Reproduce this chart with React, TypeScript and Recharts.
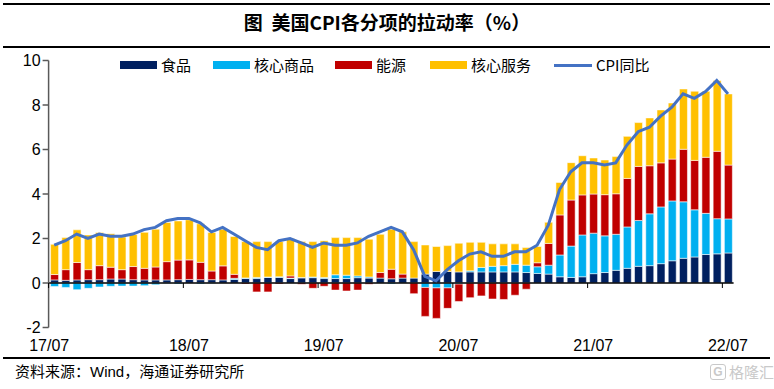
import React from 'react';
import { ComposedChart, Bar, Line, XAxis, YAxis, ReferenceLine } from 'recharts';

const months = [
  '17/07','17/08','17/09','17/10','17/11','17/12',
  '18/01','18/02','18/03','18/04','18/05','18/06','18/07','18/08','18/09','18/10','18/11','18/12',
  '19/01','19/02','19/03','19/04','19/05','19/06','19/07','19/08','19/09','19/10','19/11','19/12',
  '20/01','20/02','20/03','20/04','20/05','20/06','20/07','20/08','20/09','20/10','20/11','20/12',
  '21/01','21/02','21/03','21/04','21/05','21/06','21/07','21/08','21/09','21/10','21/11','21/12',
  '22/01','22/02','22/03','22/04','22/05','22/06','22/07',
];

const food = [
  0.14,0.12,0.14,0.15,0.15,0.18,
  0.18,0.15,0.14,0.14,0.14,0.15,0.16,0.15,0.15,0.14,0.16,0.20,
  0.20,0.25,0.25,0.20,0.23,0.24,0.20,0.20,0.20,0.24,0.22,0.22,
  0.19,0.22,0.22,0.40,0.52,0.52,0.50,0.50,0.50,0.50,0.50,0.50,
  0.47,0.43,0.40,0.28,0.25,0.28,0.42,0.47,0.57,0.66,0.75,0.78,
  0.87,1.00,1.11,1.17,1.28,1.31,1.35,
];

const coreGoods = [
  -0.16,-0.20,-0.30,-0.24,-0.18,-0.15,
  -0.14,-0.14,-0.12,-0.08,-0.02,-0.05,0.00,-0.05,-0.02,0.00,0.05,0.03,
  0.05,0.02,0.03,0.02,0.02,0.03,0.05,0.17,0.15,0.08,0.05,0.00,
  -0.05,0.00,0.00,-0.20,-0.22,-0.22,-0.05,0.05,0.20,0.25,0.28,0.34,
  0.33,0.30,0.40,0.98,1.41,1.88,1.82,1.65,1.62,1.86,2.06,2.33,
  2.55,2.69,2.54,2.12,1.85,1.58,1.53,
];

const energy = [
  0.24,0.48,0.78,0.45,0.63,0.53,
  0.42,0.59,0.52,0.58,0.82,0.88,0.88,0.78,0.39,0.63,0.18,-0.05,
  -0.40,-0.40,-0.05,0.10,-0.06,-0.24,-0.15,-0.32,-0.36,-0.32,-0.06,0.25,
  0.43,0.18,-0.48,-1.30,-1.37,-0.92,-0.78,-0.66,-0.58,-0.72,-0.74,-0.55,
  -0.28,0.18,0.98,1.80,2.07,1.80,1.76,1.85,1.82,2.18,2.43,2.16,
  1.98,1.88,2.36,2.22,2.52,3.03,2.42,
];

const coreServices = [
  1.36,1.44,1.47,1.56,1.49,1.50,
  1.47,1.44,1.62,1.70,1.76,1.76,1.80,1.73,1.73,1.65,1.70,1.63,
  1.61,1.59,1.58,1.68,1.61,1.59,1.65,1.67,1.69,1.72,1.70,1.72,
  1.80,1.90,1.64,1.31,1.12,1.16,1.29,1.28,1.13,1.01,0.98,0.92,
  0.79,0.73,0.95,1.46,1.68,1.76,1.62,1.56,1.67,1.89,1.97,2.15,
  2.38,2.52,2.71,3.11,2.97,3.18,3.20,
];

const cpi = [
  1.7,1.9,2.2,2.0,2.2,2.1,
  2.1,2.2,2.4,2.5,2.8,2.9,2.9,2.7,2.3,2.5,2.2,1.9,
  1.6,1.5,1.9,2.0,1.8,1.6,1.8,1.7,1.7,1.8,2.1,2.3,
  2.5,2.3,1.5,0.3,0.1,0.6,1.0,1.3,1.4,1.2,1.2,1.4,
  1.4,1.7,2.6,4.2,5.0,5.4,5.4,5.3,5.4,6.2,6.8,7.0,
  7.5,7.9,8.5,8.3,8.6,9.1,8.5,
];

const xTicks = ['17/07','18/07','19/07','20/07','21/07','22/07'];
const yTicks = [-2, 0, 2, 4, 6, 8, 10];

const seriesNames = { food: '食品', coreGoods: '核心商品', energy: '能源', coreServices: '核心服务', cpi: 'CPI同比' };

const data = months.map((m, i) => ({
  month: m,
  food: food[i],
  coreGoods: coreGoods[i],
  energy: energy[i],
  coreServices: coreServices[i],
  cpi: cpi[i],
}));

const W = 774;
const H = 389;
const MARGIN = { top: 60.5, right: 40.4, bottom: 31.5, left: 8.6 };
const Y_AXIS_W = 40;
const X_AXIS_H = 30;
const PLOT_L = MARGIN.left + Y_AXIS_W;
const PLOT_R = W - MARGIN.right;
const PLOT_T = MARGIN.top;
const PLOT_B = H - MARGIN.bottom - X_AXIS_H;
const BAND = (PLOT_R - PLOT_L) / months.length;
const ZERO_Y = PLOT_T + (PLOT_B - PLOT_T) * (10 / 12);

const NUM_FONT = '"Liberation Sans Narrow", "Arial Narrow", "Liberation Sans", Arial, sans-serif';
const CJK_FONT = '"Noto Sans CJK SC", "Noto Sans", sans-serif';

const COLORS = {
  food: '#002060',
  coreGoods: '#00B0F0',
  energy: '#C00000',
  coreServices: '#FFC000',
  cpi: '#4472C4',
};

const XTick = (props: any) => {
  const { x, y, payload } = props;
  const tx = x - BAND / 2;
  const shift = payload.value === xTicks[0] ? -5 : 0;
  return (
    <g>
      <line x1={tx} x2={tx} y1={ZERO_Y} y2={ZERO_Y + 5} stroke="#000" strokeWidth={1} />
      <text x={x + shift} y={y + 15.5} textAnchor="middle" fontSize={16} fontFamily={NUM_FONT} fill="#000">
        {payload.value}
      </text>
    </g>
  );
};

const barStroke = 'rgba(255,255,255,0.55)';

const LegendItem = ({ left, kind, color, label }: { left: number; kind: 'rect' | 'line'; color: string; label: string }) => (
  <div style={{ position: 'absolute', left, top: 0, height: 16, display: 'flex', alignItems: 'center', whiteSpace: 'nowrap' }}>
    {kind === 'rect' ? (
      <div style={{ width: 37, height: 8, background: color }} />
    ) : (
      <div style={{ width: 38, height: 3, background: color }} />
    )}
    <span style={{ marginLeft: 4, fontSize: 15, fontFamily: CJK_FONT, color: '#000', lineHeight: '16px' }}>{label}</span>
  </div>
);

export default function App() {
  return (
    <div style={{ position: 'absolute', left: 0, top: 0, width: W, height: H, background: '#fff', overflow: 'hidden' }}>
      <div style={{ position: 'absolute', left: 3, top: 3, width: 767, height: 2, background: '#000' }} />
      <div
        style={{
          position: 'absolute',
          left: 0,
          top: 9,
          width: W,
          textAlign: 'center',
          fontFamily: CJK_FONT,
          fontWeight: 700,
          fontSize: 19,
          lineHeight: '26px',
          color: '#000',
        }}
      >
        图&nbsp;&nbsp;美国CPI各分项的拉动率（%）
      </div>
      <div style={{ position: 'absolute', left: 3, top: 46, width: 767, height: 1.5, background: '#000' }} />

      <ComposedChart width={W} height={H} data={data} margin={MARGIN} stackOffset="sign" style={{ position: 'absolute', left: 0, top: 0 }}>
        <XAxis
          dataKey="month"
          ticks={xTicks}
          interval={0}
          height={X_AXIS_H}
          axisLine={false}
          tickLine={false}
          tick={<XTick />}
        />
        <YAxis
          domain={[-2, 10]}
          ticks={yTicks}
          width={Y_AXIS_W}
          allowDataOverflow
          axisLine={{ stroke: '#595959', strokeWidth: 1.5 }}
          tickLine={{ stroke: '#595959', strokeWidth: 1.5 }}
          tickSize={6}
          tick={{ fill: '#000', fontSize: 16, fontFamily: NUM_FONT }}
        />
        <Bar dataKey="food" name={seriesNames.food} stackId="a" fill={COLORS.food} stroke={barStroke} strokeWidth={1} isAnimationActive={false} barSize={8} />
        <Bar dataKey="coreGoods" name={seriesNames.coreGoods} stackId="a" fill={COLORS.coreGoods} stroke={barStroke} strokeWidth={1} isAnimationActive={false} barSize={8} />
        <Bar dataKey="energy" name={seriesNames.energy} stackId="a" fill={COLORS.energy} stroke={barStroke} strokeWidth={1} isAnimationActive={false} barSize={8} />
        <Bar dataKey="coreServices" name={seriesNames.coreServices} stackId="a" fill={COLORS.coreServices} stroke={barStroke} strokeWidth={1} isAnimationActive={false} barSize={8} />
        <ReferenceLine y={0} stroke="#000" strokeWidth={1.5} />
        <Line dataKey="cpi" name={seriesNames.cpi} type="linear" stroke={COLORS.cpi} strokeWidth={3} dot={false} activeDot={false} isAnimationActive={false} />
      </ComposedChart>

      <div style={{ position: 'absolute', left: 0, top: 57, width: W, height: 16 }}>
        <LegendItem left={120} kind="rect" color={COLORS.food} label={seriesNames.food} />
        <LegendItem left={213} kind="rect" color={COLORS.coreGoods} label={seriesNames.coreGoods} />
        <LegendItem left={335} kind="rect" color={COLORS.energy} label={seriesNames.energy} />
        <LegendItem left={430} kind="rect" color={COLORS.coreServices} label={seriesNames.coreServices} />
        <LegendItem left={554} kind="line" color={COLORS.cpi} label={seriesNames.cpi} />
      </div>

      <div style={{ position: 'absolute', left: 3, top: 357, width: 767, height: 1.5, background: '#000' }} />
      <div
        style={{
          position: 'absolute',
          left: 15,
          top: 361,
          fontFamily: CJK_FONT,
          fontSize: 15,
          lineHeight: '20px',
          color: '#000',
          whiteSpace: 'nowrap',
        }}
      >
        资料来源：<span style={{ fontFamily: NUM_FONT }}>Wind</span>，海通证券研究所
      </div>
      <div
        style={{
          position: 'absolute',
          left: 710,
          top: 363,
          display: 'flex',
          alignItems: 'center',
          color: '#c9c9c9',
          fontFamily: CJK_FONT,
          fontSize: 15,
          lineHeight: '18px',
          whiteSpace: 'nowrap',
        }}
      >
        <span style={{ display: 'inline-block', border: '1.5px solid #c9c9c9', borderRadius: 3, width: 14, height: 14, lineHeight: '14px', textAlign: 'center', fontSize: 12, fontFamily: NUM_FONT, fontWeight: 700, marginRight: 3 }}>G</span>
        格隆汇
      </div>
    </div>
  );
}
